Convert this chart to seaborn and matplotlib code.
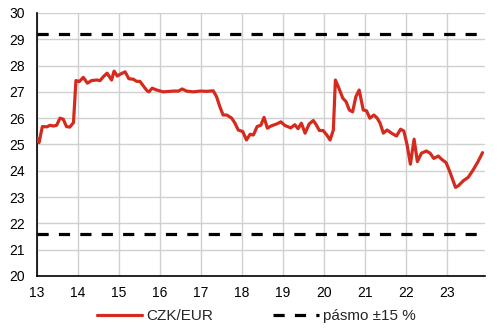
import matplotlib
matplotlib.use("Agg")
import matplotlib.pyplot as plt
import seaborn as sns
import pandas as pd

# Time (decimal year) and CZK/EUR rate
t = [2013.00, 2013.05, 2013.13, 2013.24, 2013.32, 2013.40, 2013.48, 2013.56, 2013.64, 2013.72,
     2013.80, 2013.89, 2013.95, 2014.03, 2014.13, 2014.23, 2014.33, 2014.46, 2014.54, 2014.62,
     2014.71, 2014.82, 2014.88, 2014.96, 2015.04, 2015.15, 2015.24, 2015.35, 2015.43, 2015.51,
     2015.68, 2015.73, 2015.81, 2015.92, 2016.08, 2016.33, 2016.45, 2016.54, 2016.65, 2016.81,
     2016.98, 2017.14, 2017.30, 2017.38, 2017.46, 2017.54, 2017.63, 2017.75, 2017.83, 2017.91,
     2018.02, 2018.11, 2018.20, 2018.28, 2018.37, 2018.46, 2018.54, 2018.62, 2018.72, 2018.85,
     2018.95, 2019.05, 2019.19, 2019.29, 2019.37, 2019.45, 2019.54, 2019.64, 2019.74, 2019.80,
     2019.89, 2019.98, 2020.07, 2020.15, 2020.23, 2020.28, 2020.35, 2020.46, 2020.54, 2020.62,
     2020.70, 2020.78, 2020.86, 2020.96, 2021.04, 2021.12, 2021.22, 2021.30, 2021.37, 2021.45,
     2021.54, 2021.65, 2021.77, 2021.87, 2021.95, 2022.03, 2022.11, 2022.20, 2022.28, 2022.38,
     2022.50, 2022.59, 2022.68, 2022.79, 2022.87, 2022.98, 2023.07, 2023.21, 2023.28, 2023.40,
     2023.52, 2023.64, 2023.76, 2023.87]
czk_eur = [25.24, 25.07, 25.68, 25.67, 25.73, 25.70, 25.73, 26.00, 25.96, 25.68,
           25.66, 25.83, 27.43, 27.39, 27.55, 27.33, 27.43, 27.45, 27.43, 27.58,
           27.71, 27.45, 27.79, 27.60, 27.68, 27.76, 27.50, 27.48, 27.40, 27.40,
           27.05, 27.00, 27.14, 27.07, 27.00, 27.03, 27.03, 27.11, 27.03, 27.00,
           27.03, 27.02, 27.04, 26.82, 26.44, 26.12, 26.12, 26.00, 25.81, 25.55,
           25.49, 25.17, 25.39, 25.36, 25.68, 25.73, 26.03, 25.62, 25.71, 25.78,
           25.86, 25.72, 25.63, 25.75, 25.60, 25.81, 25.43, 25.78, 25.91, 25.78,
           25.53, 25.53, 25.36, 25.17, 25.55, 27.45, 27.20, 26.76, 26.63, 26.31,
           26.24, 26.82, 27.07, 26.31, 26.28, 26.00, 26.12, 26.00, 25.81, 25.43,
           25.55, 25.43, 25.32, 25.58, 25.51, 24.98, 24.25, 25.20, 24.35, 24.67,
           24.75, 24.67, 24.47, 24.56, 24.44, 24.31, 23.97, 23.37, 23.43, 23.62,
           23.75, 24.03, 24.35, 24.69]
band_upper = 29.2
band_lower = 21.6
year_ticks = [2013, 2014, 2015, 2016, 2017, 2018, 2019, 2020, 2021, 2022, 2023]
year_labels = ["13", "14", "15", "16", "17", "18", "19", "20", "21", "22", "23"]
y_ticks = [20, 21, 22, 23, 24, 25, 26, 27, 28, 29, 30]

sns.set_style("whitegrid")
plt.rcParams["font.family"] = ["Liberation Sans", "DejaVu Sans"]

df = pd.DataFrame({"t": t, "CZK/EUR": czk_eur})

fig = plt.figure(figsize=(5.0, 3.32), dpi=100)
ax = fig.add_axes([0.074, 0.1687, 0.896, 0.7923])

dash = (0, (3.5, 3.2))
ax.axhline(band_upper, color="black", lw=2.3, linestyle=dash, zorder=2)
ax.axhline(band_lower, color="black", lw=2.3, linestyle=dash, zorder=2,
           label="pásmo ±15 %")
sns.lineplot(data=df, x="t", y="CZK/EUR", ax=ax, color="#d52b1e", lw=2.3,
             label="CZK/EUR", zorder=3)

ax.set_xlim(2013, 2023.93)
ax.set_ylim(20, 30)
ax.set_xticks(year_ticks)
ax.set_xticklabels(year_labels)
ax.set_yticks(y_ticks)
ax.set_xlabel("")
ax.set_ylabel("")
ax.grid(True, color="#d0d0d0", lw=1.0)
ax.tick_params(axis="both", length=0, labelsize=10, colors="black")
ax.tick_params(axis="x", pad=7.5)
ax.tick_params(axis="y", pad=9)
for s in ["top", "right"]:
    ax.spines[s].set_visible(False)
for s in ["left", "bottom"]:
    ax.spines[s].set_visible(True)
    ax.spines[s].set_color("black")
    ax.spines[s].set_linewidth(1.2)

handles, labels = ax.get_legend_handles_labels()
order = [labels.index("CZK/EUR"), labels.index("pásmo ±15 %")]
ax.legend([handles[i] for i in order], [labels[i] for i in order],
          loc="center", bbox_to_anchor=(0.489, -0.152), ncol=2,
          frameon=False, fontsize=11, handlelength=3.0, handletextpad=0.26,
          columnspacing=3.9, borderaxespad=0)

fig.savefig("out.png", dpi=100)
